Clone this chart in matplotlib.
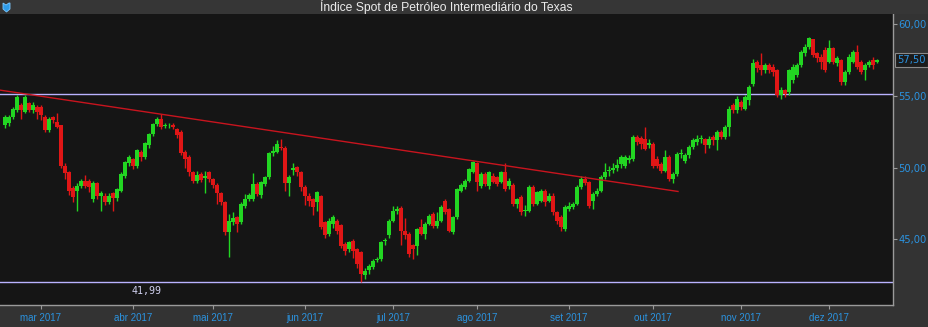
"""
WTI spot index, daily candles for 2017 (dark trading-terminal style).
"""

import matplotlib
matplotlib.use("Agg")
import matplotlib.pyplot as plt
from matplotlib.patches import Polygon, Rectangle

# Daily candles, one per trading session (index 0 = mid Feb 2017)
opens = [
    53.0, 53.1, 53.55, 54.0, 54.36, 53.9, 54.5, 54.0, 54.25, 54.25,
    53.55, 52.6, 53.55, 53.2, 52.95, 50.15, 49.7, 48.6, 48.4, 48.75,
    49.1, 49.1, 47.8, 48.9, 48.0, 48.05, 47.6, 48.2, 47.85, 48.4,
    49.4, 50.3, 50.6, 50.15, 51.1, 50.75, 51.55, 52.35, 53.05, 53.4,
    52.9, 52.95, 53.0, 52.7, 52.5, 51.1, 50.75, 49.7, 49.1, 49.58,
    49.3, 49.7, 49.2, 48.76, 48.2, 47.6, 45.5, 46.2, 46.55, 46.2,
    47.36, 47.83, 47.83, 48.88, 48.1, 48.88, 49.35, 51.05, 51.1, 51.45,
    51.35, 48.9, 49.85, 50.05, 49.7, 48.65, 48.05, 47.8, 47.6, 48.05,
    46.2, 45.4, 46.1, 46.3, 46.0, 44.65, 44.3, 44.9, 44.3, 44.1,
    42.5, 42.85, 43.05, 43.55, 43.6, 44.85, 45.3, 46.3, 47.0, 47.2,
    45.6, 45.4, 44.6, 44.55, 45.85, 45.4, 46.1, 46.8, 45.96, 46.3,
    47.7, 47.1, 45.5, 46.55, 48.4, 48.65, 49.1, 49.7, 50.3, 48.75,
    49.55, 48.75, 49.45, 49.35, 49.0, 49.7, 48.75, 48.8, 47.5, 47.95,
    46.95, 47.0, 48.65, 47.5, 47.7, 48.4, 47.7, 48.05, 46.9, 46.55,
    45.7, 47.15, 47.25, 47.5, 48.65, 49.2, 49.0, 47.7, 48.15, 48.4,
    49.35, 49.75, 49.85, 49.95, 50.27, 50.15, 50.55, 50.6, 52.15, 52.1,
    52.0, 51.6, 51.65, 50.6, 50.25, 49.8, 50.75, 49.2, 49.55, 50.95,
    50.5, 50.85, 51.45, 51.8, 52.0, 52.0, 51.55, 52.15, 51.9, 52.5,
    52.15, 52.85, 54.36, 54.0, 54.6, 54.12, 54.7, 55.87, 57.39, 57.15,
    56.8, 57.15, 57.04, 56.8, 55.05, 55.4, 55.3, 56.1, 56.45, 57.15,
    57.97, 58.44, 58.95, 57.97, 57.74, 58.2, 57.39, 58.32, 57.27, 57.5,
    55.99, 56.69, 57.4, 58.1, 57.39, 56.8, 57.15, 57.5, 57.39,
]
highs = [
    53.65, 53.7, 54.2, 55.05, 54.5, 55.05, 54.6, 54.6, 54.4, 54.4,
    53.65, 53.5, 53.6, 53.8, 53.0, 50.3, 49.8, 48.7, 48.9, 49.2,
    49.5, 49.2, 49.1, 49.0, 48.4, 48.2, 48.2, 48.3, 48.6, 49.7,
    50.5, 50.9, 50.7, 51.3, 51.2, 51.8, 52.45, 53.15, 53.55, 53.75,
    53.1, 53.1, 53.1, 52.8, 52.6, 51.2, 50.9, 49.8, 49.8, 49.7,
    49.8, 49.8, 49.3, 48.9, 48.3, 47.7, 46.8, 46.9, 46.6, 47.6,
    48.15, 48.2, 49.6, 49.0, 49.1, 49.45, 51.1, 51.5, 51.9, 52.0,
    51.5, 49.5, 50.3, 50.15, 49.8, 48.8, 48.2, 47.9, 48.4, 48.1,
    46.3, 46.5, 46.7, 46.4, 46.1, 44.8, 44.9, 45.0, 44.4, 44.2,
    43.0, 43.3, 43.6, 43.8, 44.9, 45.1, 46.4, 47.3, 47.3, 47.3,
    46.5, 45.5, 44.7, 45.8, 46.4, 46.2, 46.8, 46.9, 46.9, 47.4,
    47.8, 47.2, 46.6, 48.6, 48.9, 49.2, 50.0, 50.5, 50.4, 49.7,
    49.7, 49.8, 49.6, 49.4, 49.8, 50.3, 49.3, 48.9, 47.9, 48.1,
    47.4, 48.8, 48.8, 48.4, 48.5, 48.5, 48.2, 48.2, 47.0, 46.7,
    47.4, 47.6, 47.6, 48.8, 49.4, 49.4, 49.1, 48.3, 48.6, 49.5,
    50.3, 50.1, 50.3, 50.6, 50.9, 50.9, 50.9, 52.3, 52.3, 52.2,
    52.85, 52.0, 51.8, 50.8, 50.4, 51.2, 50.9, 49.7, 51.1, 51.3,
    51.0, 51.6, 52.1, 52.3, 52.3, 52.1, 52.2, 52.3, 52.6, 52.6,
    53.0, 54.3, 54.5, 55.0, 54.75, 55.1, 55.8, 57.6, 57.5, 57.97,
    57.3, 57.3, 57.2, 56.9, 55.6, 55.5, 56.9, 57.2, 57.3, 58.2,
    58.6, 59.1, 59.0, 58.1, 57.9, 58.4, 58.9, 58.4, 57.8, 57.6,
    56.8, 57.9, 58.2, 58.55, 57.5, 57.3, 57.5, 57.74, 57.6,
]
lows = [
    52.8, 52.9, 53.4, 53.9, 53.4, 53.8, 53.9, 53.8, 53.4, 53.3,
    52.5, 52.5, 53.1, 52.75, 50.0, 49.2, 48.1, 47.6, 47.0, 48.6,
    48.6, 48.3, 47.6, 47.8, 47.0, 47.4, 47.5, 47.0, 47.7, 48.3,
    49.3, 50.1, 49.9, 50.0, 50.5, 50.6, 51.4, 52.2, 52.9, 52.7,
    52.8, 52.8, 52.7, 52.1, 50.9, 50.0, 49.4, 48.9, 48.9, 49.0,
    48.2, 49.0, 48.6, 47.5, 47.4, 45.3, 43.75, 46.0, 45.5, 46.1,
    47.2, 47.7, 47.7, 48.0, 47.9, 48.7, 49.2, 50.8, 51.0, 51.2,
    48.4, 48.0, 49.5, 49.4, 48.4, 47.4, 47.3, 46.7, 47.0, 45.7,
    45.1, 45.2, 45.8, 45.4, 44.4, 43.9, 44.1, 43.7, 43.0, 42.0,
    42.2, 42.6, 42.9, 43.4, 43.5, 44.6, 45.1, 46.2, 46.8, 44.6,
    45.0, 43.75, 43.6, 43.9, 45.3, 45.0, 46.0, 45.8, 45.8, 46.2,
    46.8, 45.5, 45.4, 46.4, 48.3, 48.5, 49.0, 49.6, 48.4, 48.6,
    48.7, 48.5, 48.9, 48.7, 48.9, 48.4, 48.5, 47.3, 47.2, 46.7,
    46.6, 46.9, 47.3, 47.4, 47.6, 47.3, 47.6, 46.7, 46.1, 45.6,
    45.6, 47.0, 47.1, 47.4, 48.5, 48.8, 47.2, 47.1, 48.0, 48.3,
    49.2, 49.4, 49.6, 49.8, 50.0, 50.0, 50.3, 50.5, 51.6, 51.3,
    51.2, 51.4, 50.0, 50.0, 49.6, 49.7, 49.1, 48.9, 49.4, 50.7,
    50.3, 50.7, 51.3, 51.6, 51.7, 51.0, 51.4, 51.6, 51.2, 52.0,
    52.0, 52.2, 53.8, 53.8, 54.0, 54.0, 54.4, 55.7, 56.7, 56.45,
    56.6, 56.6, 56.4, 54.9, 54.8, 54.9, 55.1, 55.9, 56.3, 57.0,
    57.8, 58.3, 57.7, 57.4, 56.9, 56.7, 57.3, 57.2, 57.1, 55.8,
    55.8, 56.5, 57.3, 56.9, 56.5, 56.1, 57.0, 56.9, 57.3,
]
closes = [
    53.55, 53.55, 54.1, 54.95, 54.0, 54.95, 54.0, 54.36, 53.9, 53.66,
    52.6, 53.43, 53.3, 52.85, 50.15, 49.6, 48.4, 47.95, 48.75, 49.1,
    48.75, 48.65, 48.9, 48.05, 48.2, 47.6, 48.05, 47.85, 48.5, 49.55,
    50.4, 50.75, 50.15, 51.2, 50.75, 51.7, 52.35, 53.05, 53.4, 52.85,
    53.0, 53.0, 52.85, 52.25, 51.0, 50.6, 49.7, 49.1, 49.46, 49.11,
    49.4, 49.2, 48.76, 48.2, 47.6, 45.5, 46.3, 46.5, 46.1, 47.48,
    47.83, 48.06, 48.88, 48.18, 49.0, 49.35, 51.0, 51.15, 51.65, 51.35,
    48.9, 49.35, 49.95, 49.7, 48.65, 48.05, 47.7, 47.25, 48.3, 45.85,
    45.3, 46.3, 46.55, 45.6, 44.55, 44.2, 44.8, 44.2, 43.3, 42.6,
    42.8, 43.15, 43.5, 43.65, 44.8, 44.95, 46.3, 47.0, 47.1, 45.6,
    45.3, 44.0, 44.3, 45.7, 45.4, 46.1, 46.66, 45.96, 46.3, 47.25,
    46.9, 45.6, 46.55, 48.5, 48.76, 49.1, 49.9, 50.4, 49.0, 49.55,
    48.85, 49.7, 49.0, 48.85, 49.7, 48.5, 49.1, 47.5, 47.8, 46.9,
    47.05, 48.65, 47.5, 48.3, 48.4, 47.6, 48.05, 46.9, 46.3, 45.85,
    47.25, 47.35, 47.45, 48.65, 49.2, 48.95, 47.35, 48.15, 48.4, 49.35,
    49.7, 49.85, 49.95, 50.2, 50.74, 50.74, 50.65, 52.15, 51.8, 51.65,
    51.3, 51.7, 50.15, 50.15, 49.8, 50.75, 49.2, 49.55, 50.95, 51.0,
    50.85, 51.45, 51.9, 52.0, 52.05, 51.55, 52.0, 51.9, 52.5, 52.15,
    52.85, 54.1, 54.0, 54.82, 54.24, 54.94, 55.64, 57.27, 56.92, 56.8,
    57.15, 56.8, 56.69, 55.05, 55.4, 55.17, 56.8, 57.04, 57.15, 58.1,
    58.44, 59.02, 57.85, 57.62, 57.39, 56.8, 58.32, 57.39, 57.62, 55.99,
    56.69, 57.74, 58.1, 57.04, 56.69, 57.15, 57.39, 57.15, 57.5,
]

# month ticks: session index of the first session of each month
month_idx = [9, 32, 52, 75, 97, 118, 141, 162, 184, 206]
month_labels = ["mar 2017", "abr 2017", "mai 2017", "jun 2017", "jul 2017",
                "ago 2017", "set 2017", "out 2017", "nov 2017", "dez 2017"]
y_ticks = [45, 50, 55, 60]

# drawn studies
trend_x = [-1.25, 168.25]
trend_y = [55.41, 48.34]
resistance = 55.15
period_low = 41.99
last_price = closes[-1]

BG = "#333333"
PLOT_BG = "#151515"
GREEN = "#22d622"
RED = "#e01616"
BLUE = "#2b93e0"
AXIS = "#9a9a9a"

fig = plt.figure(figsize=(9.29, 3.27), dpi=100, facecolor=BG)
ax = fig.add_axes([0, 1 - 305 / 327, 893 / 929, (305 - 14) / 327])
ax.set_facecolor(PLOT_BG)

# candles
xs = list(range(len(closes)))
cols = [GREEN if c >= o else RED for o, c in zip(opens, closes)]
ax.vlines(xs, lows, highs, colors=cols, linewidth=1.0, zorder=2)
bottoms = [min(o, c) for o, c in zip(opens, closes)]
heights = [max(abs(c - o), 0.06) for o, c in zip(opens, closes)]
ax.bar(xs, heights, bottom=bottoms, width=0.8, color=cols, linewidth=0, zorder=3)

# studies
ax.axhline(resistance, color="#b9b2ff", linewidth=1.0, zorder=1)
ax.axhline(period_low, color="#b9b2ff", linewidth=1.0, zorder=1)
ax.plot(trend_x, trend_y, color="#c8141e", linewidth=1.0, zorder=4)
ax.text(35.5, 41.4, f"{period_low:.2f}".replace(".", ","), color="#cfcfee",
        fontsize=7.2, family="DejaVu Sans Mono", ha="center", va="center")

ax.set_xlim(-1.25, 222)
ax.set_ylim(40.42, 60.72)

# axes styling
for side in ["top", "left"]:
    ax.spines[side].set_visible(False)
for side in ["right", "bottom"]:
    ax.spines[side].set_color(AXIS)
    ax.spines[side].set_linewidth(1.0)

ax.yaxis.tick_right()
ax.set_yticks(y_ticks)
ax.set_yticklabels([f"{v:.2f}".replace(".", ",") for v in y_ticks],
                   color=BLUE, fontsize=7.2, family="DejaVu Sans")
ax.tick_params(axis="y", direction="out", length=3, width=0.8, color=AXIS, pad=1)

ax.set_xticks(month_idx)
ax.set_xticklabels(month_labels, color=BLUE, fontsize=7.0, family="Liberation Sans")
ax.tick_params(axis="x", direction="out", length=3, width=0.8, color=AXIS, pad=3)

# last price box on the right axis
ax.annotate(f"{last_price:.2f}".replace(".", ","), xy=(1.0, last_price),
            xycoords=("axes fraction", "data"), xytext=(3.2, 0),
            textcoords="offset points", color=BLUE, fontsize=7.2,
            family="DejaVu Sans", va="center", ha="left",
            bbox=dict(boxstyle="square,pad=0.2", fc="#1b1b1b", ec="#8a8a8a", lw=0.8))

# title bar
fig.patches.append(Rectangle((0, 1 - 14 / 327), 1, 14 / 327, transform=fig.transFigure,
                             facecolor="#363636", edgecolor="none"))
fig.text(446.5 / 929, 1 - 7 / 327, "Índice Spot de Petróleo Intermediário do Texas",
         color="#ececec", fontsize=8.7, family="Liberation Sans", ha="center", va="center")

# little blue shield icon at the top-left
W, H = 929.0, 327.0
shield = [(3, 3), (6, 5), (9, 3), (10, 3), (10, 9), (6.5, 12), (3, 9)]
fig.patches.append(Polygon([(x / W, 1 - y / H) for x, y in shield], closed=True,
                           transform=fig.transFigure, facecolor="#2e9be8",
                           edgecolor="#7cc8ff", linewidth=0.6))

plt.savefig("out.png", dpi=100, facecolor=BG)
plt.close()
